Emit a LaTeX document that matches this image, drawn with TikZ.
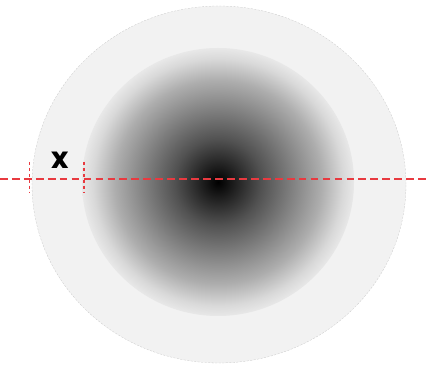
\documentclass[tikz,border=0pt]{standalone}
\usepackage{fontspec}
\setmainfont{Poppins}
\definecolor{cutred}{HTML}{E83A40}
\definecolor{diskgray}{HTML}{F2F2F2}
\pgfdeclareradialshading{spot}{\pgfpoint{0bp}{0bp}}{%
  color(0bp)=(black); color(3bp)=(black!88); color(8bp)=(black!68);
  color(13.5bp)=(black!50); color(19bp)=(black!32); color(23bp)=(black!15);
  color(25bp)=(black!9); color(50bp)=(black!9)}
\begin{document}
\begin{tikzpicture}
  \useasboundingbox (0,0) rectangle (10.7,9.15);
  \draw[black!22, very thin, dash pattern=on 1.5pt off 1pt, fill=diskgray] (5.475,4.5375) ellipse (4.675 and 4.4625);
  \shade[shading=spot] (5.45,4.6) ellipse (3.4 and 3.35);

  % cut line through the centre, with the width x marked at the rim
  \draw[cutred, line width=1.4pt, dash pattern=on 5.5pt off 3pt] (0,4.675) -- (10.7,4.675);
  \draw[cutred, line width=1pt, dash pattern=on 2.2pt off 2pt] (0.7375,5.1) -- (0.7375,4.35);
  \draw[cutred, line width=1pt, dash pattern=on 2.2pt off 2pt] (2.1,5.1) -- (2.1,4.35);
  \node[font=\bfseries\fontsize{21}{21}\selectfont] (xlabel) at (1.5,5.15) {x};
\end{tikzpicture}
\end{document}
